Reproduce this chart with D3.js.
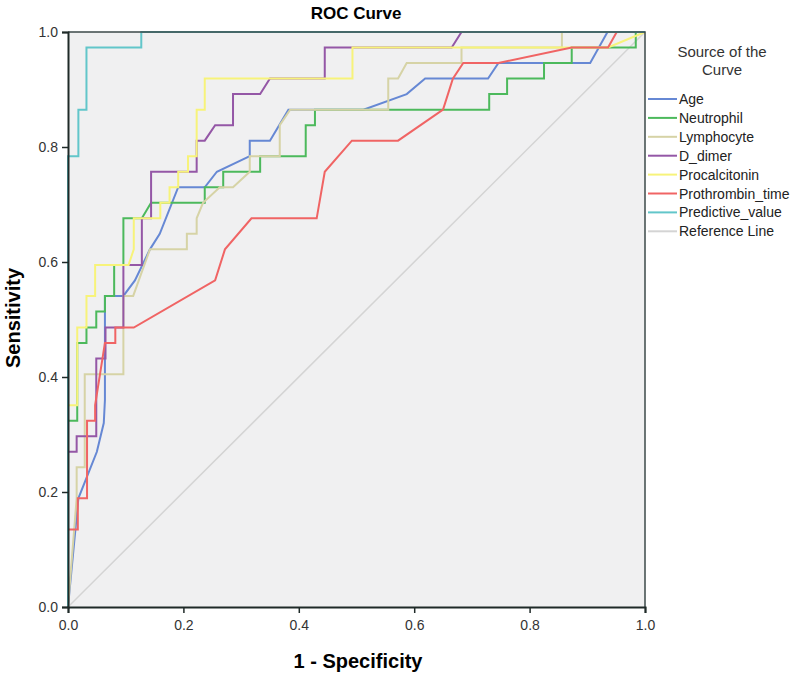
<!DOCTYPE html>
<html>
<head>
<meta charset="utf-8">
<script src="https://cdnjs.cloudflare.com/ajax/libs/d3/7.8.5/d3.min.js"></script>
<style>
  body { margin: 0; background: #fff; }
  svg { display: block; font-family: Arial, "Liberation Sans", sans-serif; }
</style>
</head>
<body>
<svg id="chart" width="800" height="679"></svg>
<script>
// ROC curves, points are [1 - specificity, sensitivity]
var age = [[0,0],[0.018,0.189],[0.05,0.27],[0.062,0.32],[0.064,0.36],[0.064,0.541],[0.096,0.541],[0.116,0.568],[0.142,0.622],[0.159,0.649],[0.191,0.730],[0.237,0.730],[0.258,0.757],[0.315,0.784],[0.315,0.811],[0.350,0.811],[0.382,0.865],[0.512,0.865],[0.587,0.892],[0.619,0.919],[0.728,0.919],[0.746,0.946],[0.905,0.946],[0.935,1],[1,1]];
var neutrophil = [[0,0],[0,0.324],[0.016,0.324],[0.016,0.459],[0.032,0.459],[0.032,0.486],[0.049,0.486],[0.049,0.514],[0.064,0.514],[0.064,0.541],[0.080,0.541],[0.080,0.595],[0.096,0.595],[0.096,0.676],[0.128,0.676],[0.144,0.703],[0.237,0.703],[0.237,0.730],[0.269,0.730],[0.269,0.757],[0.333,0.757],[0.333,0.784],[0.412,0.784],[0.412,0.838],[0.428,0.838],[0.428,0.865],[0.730,0.865],[0.730,0.892],[0.761,0.892],[0.761,0.919],[0.825,0.919],[0.825,0.946],[0.873,0.946],[0.873,0.973],[0.984,0.973],[0.984,1],[1,1]];
var lymphocyte = [[0,0],[0.015,0.189],[0.015,0.243],[0.029,0.243],[0.029,0.405],[0.096,0.405],[0.096,0.541],[0.113,0.541],[0.142,0.622],[0.206,0.622],[0.206,0.649],[0.223,0.649],[0.223,0.676],[0.234,0.703],[0.263,0.730],[0.286,0.730],[0.315,0.757],[0.315,0.784],[0.367,0.784],[0.367,0.838],[0.385,0.865],[0.555,0.865],[0.555,0.919],[0.572,0.919],[0.587,0.946],[0.682,0.946],[0.682,0.973],[0.856,0.973],[0.856,1],[1,1]];
var dDimer = [[0,0],[0,0.270],[0.015,0.270],[0.015,0.297],[0.049,0.297],[0.049,0.432],[0.065,0.432],[0.065,0.486],[0.096,0.486],[0.096,0.595],[0.128,0.595],[0.128,0.676],[0.144,0.676],[0.144,0.757],[0.223,0.757],[0.223,0.811],[0.237,0.811],[0.255,0.838],[0.286,0.838],[0.286,0.892],[0.333,0.892],[0.350,0.919],[0.445,0.919],[0.445,0.973],[0.665,0.973],[0.682,1],[1,1]];
var procalcitonin = [[0,0],[0,0.351],[0.016,0.351],[0.016,0.486],[0.032,0.486],[0.032,0.541],[0.047,0.541],[0.047,0.595],[0.105,0.595],[0.114,0.622],[0.114,0.676],[0.160,0.676],[0.160,0.703],[0.176,0.703],[0.176,0.730],[0.191,0.730],[0.191,0.757],[0.208,0.757],[0.208,0.784],[0.223,0.784],[0.223,0.865],[0.237,0.865],[0.237,0.919],[0.493,0.919],[0.493,0.973],[0.936,0.973],[1,1]];
var prothrombinTime = [[0,0],[0,0.135],[0.017,0.135],[0.017,0.189],[0.033,0.189],[0.033,0.324],[0.047,0.324],[0.047,0.351],[0.064,0.459],[0.082,0.459],[0.082,0.486],[0.114,0.486],[0.255,0.568],[0.272,0.622],[0.318,0.676],[0.431,0.676],[0.445,0.757],[0.492,0.811],[0.572,0.811],[0.650,0.865],[0.667,0.919],[0.685,0.946],[0.746,0.946],[0.873,0.973],[0.936,0.973],[0.951,1],[1,1]];
var predictiveValue = [[0,0],[0,0.784],[0.018,0.784],[0.018,0.865],[0.032,0.865],[0.032,0.973],[0.127,0.973],[0.127,1],[1,1]];
var referenceLine = [[0,0],[1,1]];

var seriesNames = ['Age', 'Neutrophil', 'Lymphocyte', 'D_dimer', 'Procalcitonin', 'Prothrombin_time', 'Predictive_value', 'Reference Line'];
var seriesData = [age, neutrophil, lymphocyte, dDimer, procalcitonin, prothrombinTime, predictiveValue, referenceLine];
var seriesColors = ['#6688d4', '#4cb95c', '#d6d3a6', '#9457a6', '#f7f37a', '#f06464', '#62c6ca', '#d4d4d4'];
var tickValues = [0, 0.2, 0.4, 0.6, 0.8, 1.0];

var svg = d3.select('#chart');
var margin = { top: 32, left: 68 };
var width = 577, height = 575;

var x = d3.scaleLinear().domain([0, 1]).range([0, width]);
var y = d3.scaleLinear().domain([0, 1]).range([height, 0]);

var g = svg.append('g')
    .attr('transform', 'translate(' + margin.left + ',' + margin.top + ')');

// plot background
g.append('rect')
    .attr('width', width)
    .attr('height', height)
    .attr('fill', '#f0f0f1');

var line = d3.line()
    .x(function(d) { return x(d[0]); })
    .y(function(d) { return y(d[1]); });

// reference line first so it sits under the curves
var order = [7, 0, 1, 2, 3, 4, 5, 6];
order.forEach(function(i) {
    g.append('path')
        .datum(seriesData[i])
        .attr('d', line)
        .attr('fill', 'none')
        .attr('stroke', seriesColors[i])
        .attr('stroke-width', i === 7 ? 1.5 : 2);
});

// frame top / right
g.append('path')
    .attr('d', 'M0,0H' + width + 'V' + height)
    .attr('fill', 'none')
    .attr('stroke', '#3d4a4a')
    .attr('stroke-width', 1.5);

var xAxis = g.append('g')
    .attr('transform', 'translate(0,' + height + ')')
    .call(d3.axisBottom(x).tickValues(tickValues).tickFormat(d3.format('.1f')).tickSizeOuter(0).tickSize(6).tickPadding(7));

var yAxis = g.append('g')
    .call(d3.axisLeft(y).tickValues(tickValues).tickFormat(d3.format('.1f')).tickSizeOuter(0).tickSize(6).tickPadding(4));

[xAxis, yAxis].forEach(function(ax) {
    ax.select('.domain').attr('stroke', '#1f2a28').attr('stroke-width', 2);
    ax.selectAll('.tick line').attr('stroke', '#1f2a28').attr('stroke-width', 1.5);
    ax.selectAll('.tick text')
        .attr('fill', '#333')
        .style('font-size', '14px')
        .style('font-family', 'Arial, "Liberation Sans", sans-serif');
});

// titles
svg.append('text')
    .attr('x', 356)
    .attr('y', 19)
    .attr('text-anchor', 'middle')
    .style('font-size', '17px')
    .style('font-weight', 'bold')
    .text('ROC Curve');

svg.append('text')
    .attr('x', 358)
    .attr('y', 668)
    .attr('text-anchor', 'middle')
    .style('font-size', '20px')
    .style('font-weight', 'bold')
    .text('1 - Specificity');

svg.append('text')
    .attr('transform', 'translate(20,318) rotate(-90)')
    .attr('text-anchor', 'middle')
    .style('font-size', '20px')
    .style('font-weight', 'bold')
    .text('Sensitivity');

// legend
var legend = svg.append('g');
legend.append('text')
    .attr('x', 722)
    .attr('y', 57)
    .attr('text-anchor', 'middle')
    .style('font-size', '15px')
    .attr('fill', '#333')
    .text('Source of the');
legend.append('text')
    .attr('x', 722)
    .attr('y', 75)
    .attr('text-anchor', 'middle')
    .style('font-size', '15px')
    .attr('fill', '#333')
    .text('Curve');

seriesNames.forEach(function(name, i) {
    var ly = 99 + i * 18.9;
    legend.append('line')
        .attr('x1', 648).attr('x2', 677)
        .attr('y1', ly).attr('y2', ly)
        .attr('stroke', seriesColors[i])
        .attr('stroke-width', 2);
    legend.append('text')
        .attr('x', 679)
        .attr('y', ly + 5)
        .style('font-size', '14px')
        .attr('fill', '#222')
        .text(name);
});
</script>
</body>
</html>
